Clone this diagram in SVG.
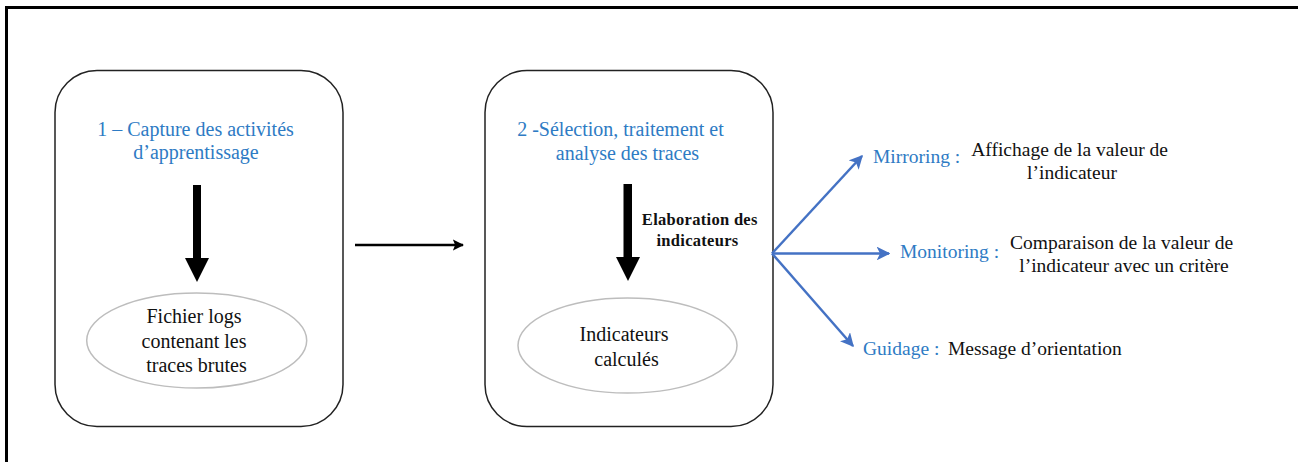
<svg xmlns="http://www.w3.org/2000/svg" width="1298" height="462" viewBox="0 0 1298 462">
  <style>
    .frame { fill: none; stroke: #000; stroke-width: 3; }
    .box { fill: #fff; stroke: #222; stroke-width: 1.5; }
    .oval { fill: #fff; stroke: #bdbdbd; stroke-width: 1.5; }
    .title { font-family: "Liberation Serif", "Times New Roman", serif; font-size: 20px; fill: #2E7BC4; }
    .body { font-family: "Liberation Serif", "Times New Roman", serif; font-size: 19.5px; fill: #111; }
    .inner { font-family: "Liberation Serif", "Times New Roman", serif; font-size: 20px; fill: #111; }
    .tag { font-family: "Liberation Serif", "Times New Roman", serif; font-size: 19.5px; fill: #2E7BC4; }
    .bold { font-family: "Liberation Serif", "Times New Roman", serif; font-size: 16.5px; font-weight: bold; fill: #111; letter-spacing: 0.3px; }
    .blue { stroke: #4472C4; stroke-width: 2.5; fill: none; }
    .black { stroke: #000; stroke-width: 2.5; fill: none; }
  </style>
  <defs>
    <marker id="headBlue" viewBox="0 0 10 10" refX="9" refY="5" markerWidth="5.5" markerHeight="5.5" orient="auto" markerUnits="strokeWidth">
      <path d="M0,0 L10,5 L0,10 L2.5,5 Z" fill="#4472C4"/>
    </marker>
    <marker id="headBlack" viewBox="0 0 10 10" refX="9" refY="5" markerWidth="4.5" markerHeight="4.5" orient="auto" markerUnits="strokeWidth">
      <path d="M0,0 L10,5 L0,10 L2,5 Z" fill="#000"/>
    </marker>
  </defs>

  <rect width="1298" height="462" fill="#fff"/>

  <!-- outer frame: top and left borders -->
  <path class="frame" d="M6.5,462 L6.5,7.5 L1298,7.5"/>

  <!-- step 1 -->
  <g id="step1">
    <rect class="box" x="55" y="70.5" width="288" height="356" rx="42" ry="42"/>
    <text class="title" text-anchor="middle">
      <tspan x="198" y="136">1 – Capture des activités</tspan>
      <tspan x="196" y="159">d’apprentissage</tspan>
    </text>
    <rect x="193" y="185" width="8" height="74" fill="#000"/>
    <polygon points="185,258 209,258 197,282" fill="#000"/>
  </g>

  <g id="rawLogs">
    <ellipse class="oval" cx="196.7" cy="340.5" rx="110" ry="47.5"/>
    <text class="inner" text-anchor="middle">
      <tspan x="196.5" y="323">Fichier logs</tspan>
      <tspan x="196.5" y="348">contenant les</tspan>
      <tspan x="196.5" y="372">traces brutes</tspan>
    </text>
  </g>

  <!-- step 2 -->
  <g id="step2">
    <rect class="box" x="485" y="70.5" width="288" height="356" rx="42" ry="42"/>
    <text class="title" text-anchor="middle">
      <tspan x="623" y="136">2 -Sélection, traitement et</tspan>
      <tspan x="627.5" y="160">analyse des traces</tspan>
    </text>
    <rect x="623.5" y="184" width="8.5" height="74" fill="#000"/>
    <polygon points="616,257 640,257 628,281" fill="#000"/>
    <text class="bold" text-anchor="middle">
      <tspan x="702" y="225">Elaboration des</tspan>
      <tspan x="697.5" y="246">indicateurs</tspan>
    </text>
  </g>

  <g id="indicators">
    <ellipse class="oval" cx="627.5" cy="345.5" rx="109.5" ry="47.5"/>
    <text class="inner" text-anchor="middle">
      <tspan x="626.5" y="341">Indicateurs</tspan>
      <tspan x="626.5" y="366">calculés</tspan>
    </text>
  </g>

  <!-- feedback modes -->
  <g id="mirroring">
    <text class="tag" x="873" y="163">Mirroring :</text>
    <text class="body" text-anchor="middle">
      <tspan x="1072" y="156">Affichage de la valeur de</tspan>
      <tspan x="1072" y="179">l’indicateur</tspan>
    </text>
  </g>
  <g id="monitoring">
    <text class="tag" x="900" y="258">Monitoring :</text>
    <text class="body" text-anchor="middle">
      <tspan x="1124" y="249">Comparaison de la valeur de</tspan>
      <tspan x="1124" y="272">l’indicateur avec un critère</tspan>
    </text>
  </g>
  <g id="guidage">
    <text class="tag" x="863" y="355">Guidage :</text>
    <text class="body" x="948" y="355">Message d’orientation</text>
  </g>

  <!-- connectors -->
  <g id="connectors">
    <line class="black" x1="355" y1="245" x2="463" y2="245" marker-end="url(#headBlack)"/>
    <line class="blue" x1="772" y1="253.5" x2="862" y2="156" marker-end="url(#headBlue)"/>
    <line class="blue" x1="772" y1="253.5" x2="889" y2="253.5" marker-end="url(#headBlue)"/>
    <line class="blue" x1="772" y1="253.5" x2="853" y2="346" marker-end="url(#headBlue)"/>
  </g>
</svg>
